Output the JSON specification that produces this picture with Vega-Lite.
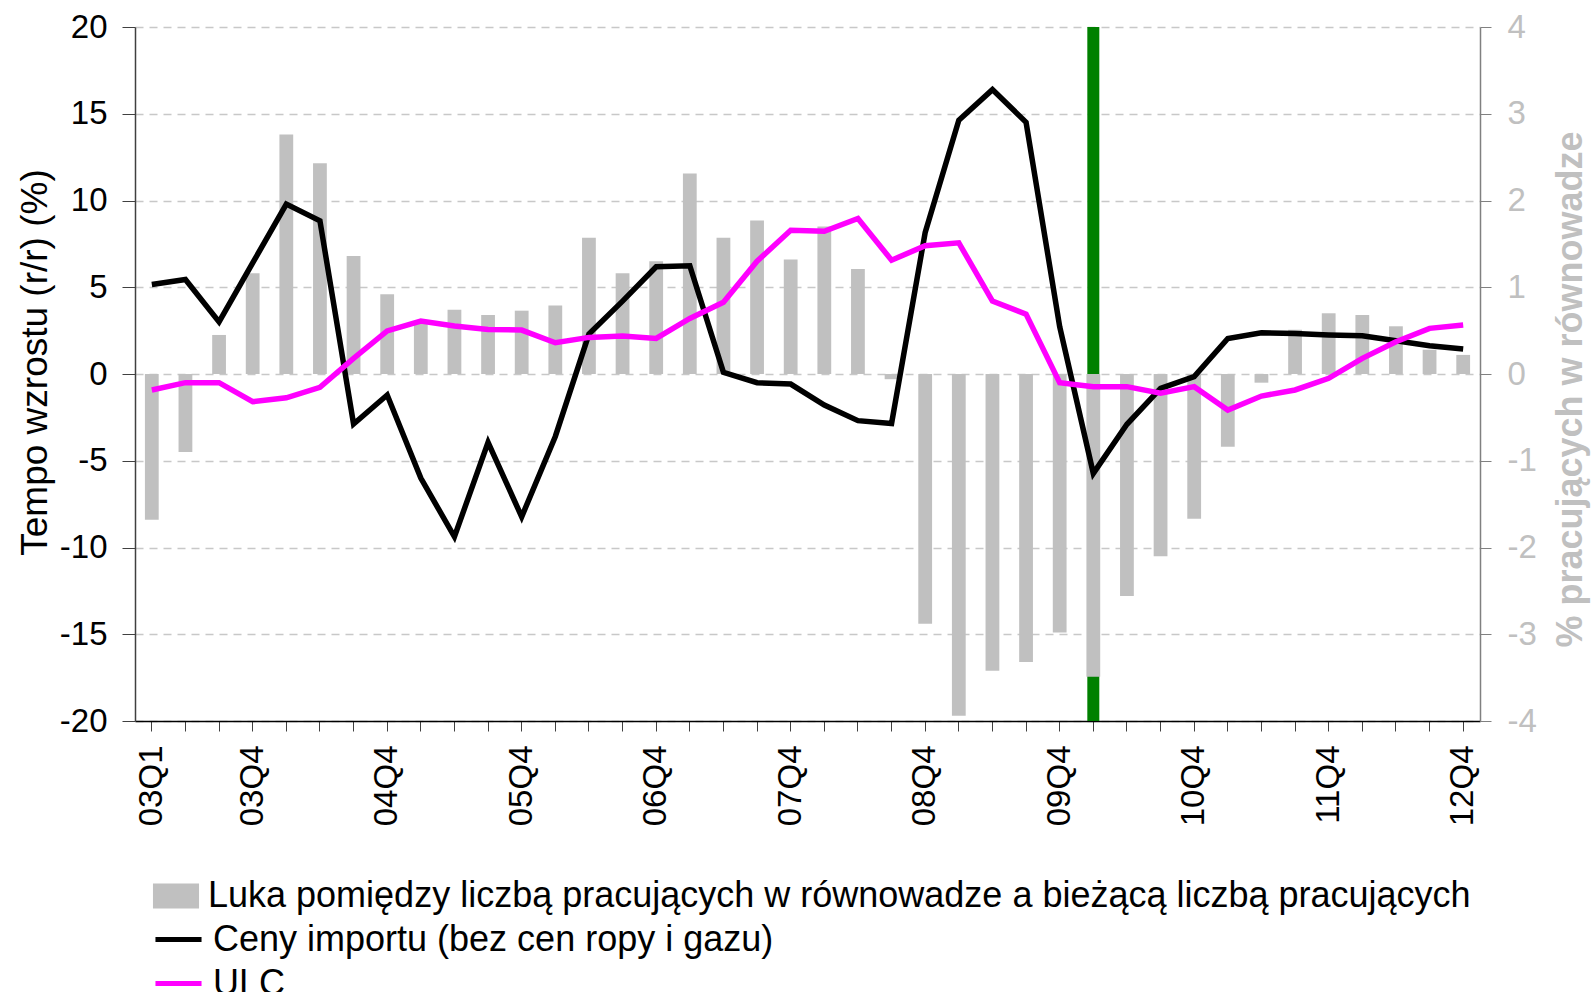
{
  "$schema": "https://vega.github.io/schema/vega-lite/v6.json",
  "autosize": {"type": "none"},
  "width": 1345,
  "height": 694,
  "padding": {"left": 135, "top": 27, "right": 113, "bottom": 271},
  "background": "white",
  "config": {"font": "Liberation Sans", "view": {"stroke": null}},
  "data": {"values": [
    {"q": "03Q1", "gap": -1.68, "imp": 5.16, "ulc": -0.92},
    {"q": "03Q2", "gap": -0.90, "imp": 5.45, "ulc": -0.5},
    {"q": "03Q3", "gap": 0.45, "imp": 3.0, "ulc": -0.5},
    {"q": "03Q4", "gap": 1.16, "imp": 6.4, "ulc": -1.6},
    {"q": "04Q1", "gap": 2.76, "imp": 9.79, "ulc": -1.37},
    {"q": "04Q2", "gap": 2.43, "imp": 8.83, "ulc": -0.77},
    {"q": "04Q3", "gap": 1.36, "imp": -2.88, "ulc": 0.9},
    {"q": "04Q4", "gap": 0.92, "imp": -1.21, "ulc": 2.48},
    {"q": "05Q1", "gap": 0.60, "imp": -6.0, "ulc": 3.05},
    {"q": "05Q2", "gap": 0.74, "imp": -9.38, "ulc": 2.77},
    {"q": "05Q3", "gap": 0.68, "imp": -3.94, "ulc": 2.57},
    {"q": "05Q4", "gap": 0.73, "imp": -8.23, "ulc": 2.53},
    {"q": "06Q1", "gap": 0.79, "imp": -3.6, "ulc": 1.80},
    {"q": "06Q2", "gap": 1.57, "imp": 2.3, "ulc": 2.11},
    {"q": "06Q3", "gap": 1.16, "imp": 4.2, "ulc": 2.19},
    {"q": "06Q4", "gap": 1.30, "imp": 6.18, "ulc": 2.05},
    {"q": "07Q1", "gap": 2.31, "imp": 6.24, "ulc": 3.2},
    {"q": "07Q2", "gap": 1.57, "imp": 0.1, "ulc": 4.13},
    {"q": "07Q3", "gap": 1.77, "imp": -0.5, "ulc": 6.5},
    {"q": "07Q4", "gap": 1.32, "imp": -0.58, "ulc": 8.29},
    {"q": "08Q1", "gap": 1.70, "imp": -1.79, "ulc": 8.23},
    {"q": "08Q2", "gap": 1.21, "imp": -2.69, "ulc": 8.96},
    {"q": "08Q3", "gap": -0.06, "imp": -2.85, "ulc": 6.56},
    {"q": "08Q4", "gap": -2.88, "imp": 8.16, "ulc": 7.39},
    {"q": "09Q1", "gap": -3.94, "imp": 14.63, "ulc": 7.56},
    {"q": "09Q2", "gap": -3.42, "imp": 16.39, "ulc": 4.2},
    {"q": "09Q3", "gap": -3.32, "imp": 14.51, "ulc": 3.45},
    {"q": "09Q4", "gap": -2.98, "imp": 2.73, "ulc": -0.5},
    {"q": "10Q1", "gap": -3.49, "imp": -5.73, "ulc": -0.73},
    {"q": "10Q2", "gap": -2.56, "imp": -2.9, "ulc": -0.73},
    {"q": "10Q3", "gap": -2.10, "imp": -0.83, "ulc": -1.1},
    {"q": "10Q4", "gap": -1.67, "imp": -0.15, "ulc": -0.73},
    {"q": "11Q1", "gap": -0.84, "imp": 2.05, "ulc": -2.08},
    {"q": "11Q2", "gap": -0.10, "imp": 2.38, "ulc": -1.27},
    {"q": "11Q3", "gap": 0.51, "imp": 2.34, "ulc": -0.92},
    {"q": "11Q4", "gap": 0.70, "imp": 2.25, "ulc": -0.25},
    {"q": "12Q1", "gap": 0.68, "imp": 2.2, "ulc": 0.9},
    {"q": "12Q2", "gap": 0.55, "imp": 1.92, "ulc": 1.86},
    {"q": "12Q3", "gap": 0.28, "imp": 1.63, "ulc": 2.63},
    {"q": "12Q4", "gap": 0.22, "imp": 1.44, "ulc": 2.82}
  ]},
  "encoding": {
    "x": {"field": "q", "type": "ordinal", "scale": {"paddingInner": 0.59, "paddingOuter": 0.295},
      "axis": {"title": null, "labelAngle": 270, "labelAlign": "right", "labelBaseline": "middle",
        "labelFontSize": 33, "labelColor": "black", "labelPadding": 14,
        "tickSize": 10, "tickColor": "#404040", "domainColor": "black", "domainWidth": 1.5,
        "labelExpr": "(datum.value == '03Q1' || slice(datum.value, 2) == 'Q4') ? datum.value : ''"}}
  },
  "layer": [
    {
      "transform": [{"filter": "datum.q === '10Q1'"}],
      "mark": {"type": "rule", "color": "#008000", "strokeWidth": 12},
      "encoding": {}
    },
    {
      "mark": {"type": "bar", "color": "#c0c0c0"},
      "encoding": {
        "y": {"field": "gap", "type": "quantitative", "scale": {"domain": [-4, 4], "nice": false},
          "axis": {"orient": "right", "values": [-4, -3, -2, -1, 0, 1, 2, 3, 4], "grid": false,
            "labelExpr": "replace(datum.label, '−', '-')",
            "labelFontSize": 33, "labelColor": "#c0c0c0", "labelPadding": 16, "tickSize": 11,
            "tickColor": "#808080", "domainColor": "#808080", "domainWidth": 1.5,
            "title": "% pracujących w równowadze", "titleFontSize": 36, "titleFontWeight": "bold",
            "titleColor": "#c0c0c0", "titleAngle": 270, "titleX": 90, "titleY": 362,
            "titleAlign": "center", "titleBaseline": "middle"}},
        "fill": {"datum": "Luka pomiędzy liczbą pracujących w równowadze a bieżącą liczbą pracujących", "type": "nominal",
          "scale": {"range": ["#c0c0c0"]},
          "legend": {"orient": "none", "legendX": 23, "legendY": 851, "title": null,
            "labelFontSize": 36, "labelColor": "black", "labelLimit": 2000, "labelOffset": 14,
            "symbolSize": 1296, "symbolType": "M-1.28,-0.69H1.28V0.69H-1.28Z", "symbolStrokeWidth": 0}}
      }
    },
    {
      "layer": [
        {
          "mark": {"type": "rule", "color": "black", "strokeWidth": 3},
          "encoding": {"y": {"datum": 0, "type": "quantitative"}}
        },
        {
          "mark": {"type": "line", "strokeWidth": 5.5},
          "encoding": {
            "y": {"field": "imp", "type": "quantitative", "scale": {"domain": [-20, 20], "nice": false},
              "axis": {"orient": "left", "values": [-20, -15, -10, -5, 0, 5, 10, 15, 20], "grid": true,
                "labelExpr": "replace(datum.label, '−', '-')",
                "gridDash": [8, 6], "gridColor": "#c8c8c8", "gridWidth": 1.5,
                "domainColor": "#404040", "domainWidth": 1.5, "tickColor": "#404040", "tickSize": 13,
                "labelFontSize": 33, "labelColor": "black", "labelPadding": 15,
                "title": "Tempo wzrostu (r/r) (%)", "titleFontSize": 37, "titleFontWeight": "normal",
                "titleColor": "black", "titleAngle": 270, "titleX": -100, "titleY": 335,
                "titleAlign": "center", "titleBaseline": "middle"}},
            "stroke": {"datum": "Ceny importu (bez cen ropy i gazu)", "type": "nominal",
              "scale": {"domain": ["Ceny importu (bez cen ropy i gazu)", "ULC"], "range": ["#000000", "#ff00ff"]},
              "legend": {"orient": "none", "legendX": 23, "legendY": 892, "title": null,
                "labelFontSize": 36, "labelColor": "black", "labelLimit": 2000, "labelOffset": 14,
                "symbolSize": 1296, "symbolType": "M-1.28,0H1.28", "symbolStrokeWidth": 5, "rowPadding": 5}}
          }
        },
        {
          "mark": {"type": "line", "strokeWidth": 5.5},
          "encoding": {
            "y": {"field": "ulc", "type": "quantitative"},
            "stroke": {"datum": "ULC", "type": "nominal"}
          }
        }
      ]
    }
  ],
  "resolve": {"scale": {"y": "independent"}}
}
